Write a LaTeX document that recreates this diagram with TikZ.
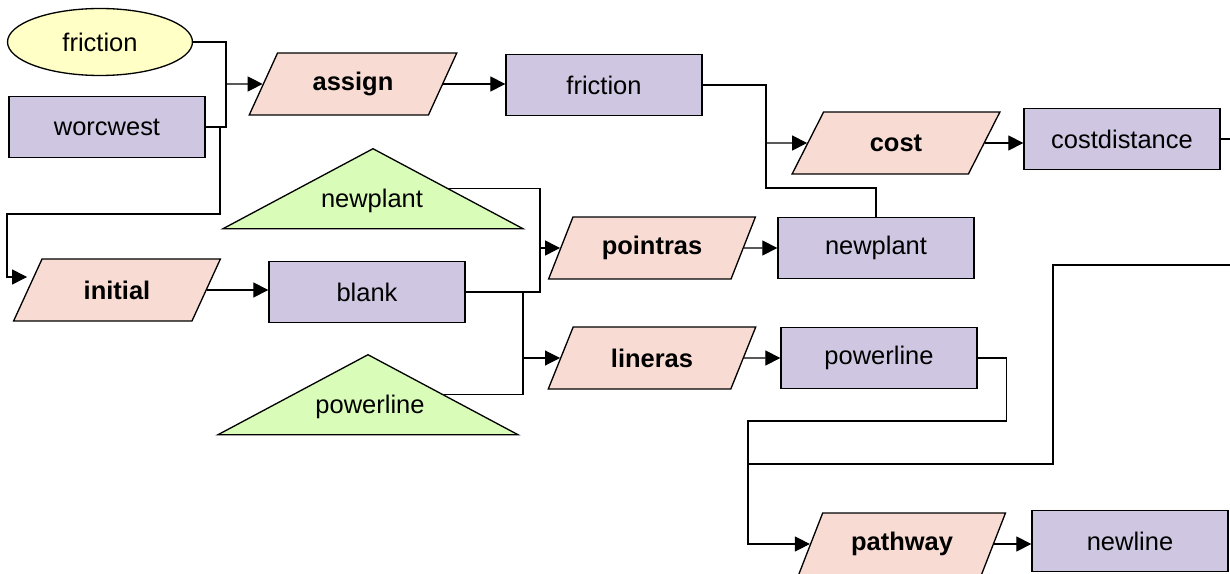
\documentclass[tikz,border=0pt]{standalone}
\usepackage{fontspec}
\setmainfont{Liberation Sans}
\usetikzlibrary{shapes.geometric,arrows.meta}

\definecolor{datafill}{HTML}{CFC7E1}
\definecolor{toolfill}{HTML}{F8DCD4}
\definecolor{inputfill}{HTML}{FFFFC6}
\definecolor{layerfill}{HTML}{D9FCB9}

\tikzset{
	label font/.style={font=\fontsize{14.5}{17}\selectfont},
	databox/.style={rectangle, draw=black, line width=0.75pt, fill=datafill, minimum width=3.92cm, minimum height=1.23cm, label font},
	toolbox/.style={trapezium, trapezium left angle=64, trapezium right angle=116, trapezium stretches=true, draw=black, line width=0.75pt, fill=toolfill, minimum width=4.16cm, minimum height=1.24cm, font=\fontsize{14.5}{17}\selectfont\bfseries},
	inputbox/.style={ellipse, draw=black, line width=0.75pt, fill=inputfill, minimum width=3.7cm, minimum height=1.34cm, label font},
	layerbox/.style={isosceles triangle, isosceles triangle stretches, shape border rotate=90, draw=black, line width=0.75pt, fill=layerfill, minimum width=6cm, minimum height=1.6cm, inner sep=0pt, anchor=apex},
	link/.style={draw=black, line width=0.6pt},
	flow/.style={link, -{Triangle[length=0.3cm, width=0.3cm]}}
}

\begin{document}
\begin{tikzpicture}[x=0.02cm, y=-0.02cm]
		%%%%% START %%%%%
		\useasboundingbox (0, 0) rectangle (1230, 574);
		
		\node[inputbox] (fric) at (100, 42) {friction};
		\node[databox] (worc) at (107, 127) {worcwest};
		\node[toolbox] (assign) at (353, 84) {assign};
		\node[databox] (frico) at (604, 85) {friction};
		\node[toolbox] (cost) at (896, 143) {cost};
		\node[databox] (costd) at (1122, 139) {costdistance};
		
		\node[layerbox] (nptri) at (373, 147) {};
		\node[label font] (nptxt) at (372, 201) {newplant};
		\node[toolbox] (pointras) at (652, 248) {pointras};
		\node[databox] (newp) at (876, 248) {newplant};
		
		\node[toolbox] (initial) at (117, 290) {initial};
		\node[databox] (blank) at (367, 292) {blank};
		
		\node[toolbox] (lineras) at (652, 358) {lineras};
		\node[databox] (plrect) at (879, 358) {powerline};
		\node[layerbox] (pltri) at (368, 353) {};
		\node[label font] (pltxt) at (370, 407) {powerline};
		
		\node[toolbox] (pathway) at (902, 544) {pathway};
		\node[databox] (newline) at (1130, 541) {newline};
		
		\coordinate (j1) at (226, 84);
		\coordinate (j2) at (220, 127);
		\coordinate (j3) at (7, 277);
		\coordinate (j4) at (766, 143);
		\coordinate (j5) at (540, 292);
		\coordinate (j7) at (523, 292);
		\coordinate (j8) at (748, 464);
		\coordinate (out1) at (1240, 139);
		\coordinate (out2) at (1240, 265);
		
		\draw[link] (fric.east) -| (j1);
		\draw[link] (worc.east) -| (j1);
		\draw[flow] (j1) -- (assign.west);
		\draw[flow] (j2) |- (120, 214) -| (j3) -- (j3 -| initial.west);
		\draw[flow] (assign.east) -- (assign.east -| frico.west);
		
		\draw[link] (frico.east) -| (766, 188) -| (newp.north);
		\draw[flow] (j4) -- (cost.west);
		\draw[flow] (cost.east) -- (cost.east -| costd.west);
		\draw[link] (costd.east) -- (out1);
		
		\draw[flow] (initial.east) -- (initial.east -| blank.west);
		\draw[link] (blank.east) -- (j5) |- (nptri.right side);
		\draw[flow] (j5 |- pointras.west) -- (pointras.west);
		\draw[link] (j7) |- (pltri.right side);
		\draw[flow] (j7 |- lineras.west) -- (lineras.west);
		\draw[flow] (pointras.east) -- (newp.west);
		\draw[flow] (lineras.east) -- (plrect.west);
		
		\draw[flow] (plrect.east) -- ++(29, 0) |- (748, 421) |- (pathway.west);
		\draw[link] (j8) -| (1053, 265) -- (out2);
		\draw[flow] (pathway.east) -- (pathway.east -| newline.west);
		%%%%% END %%%%%
	\end{tikzpicture}
\end{document}
